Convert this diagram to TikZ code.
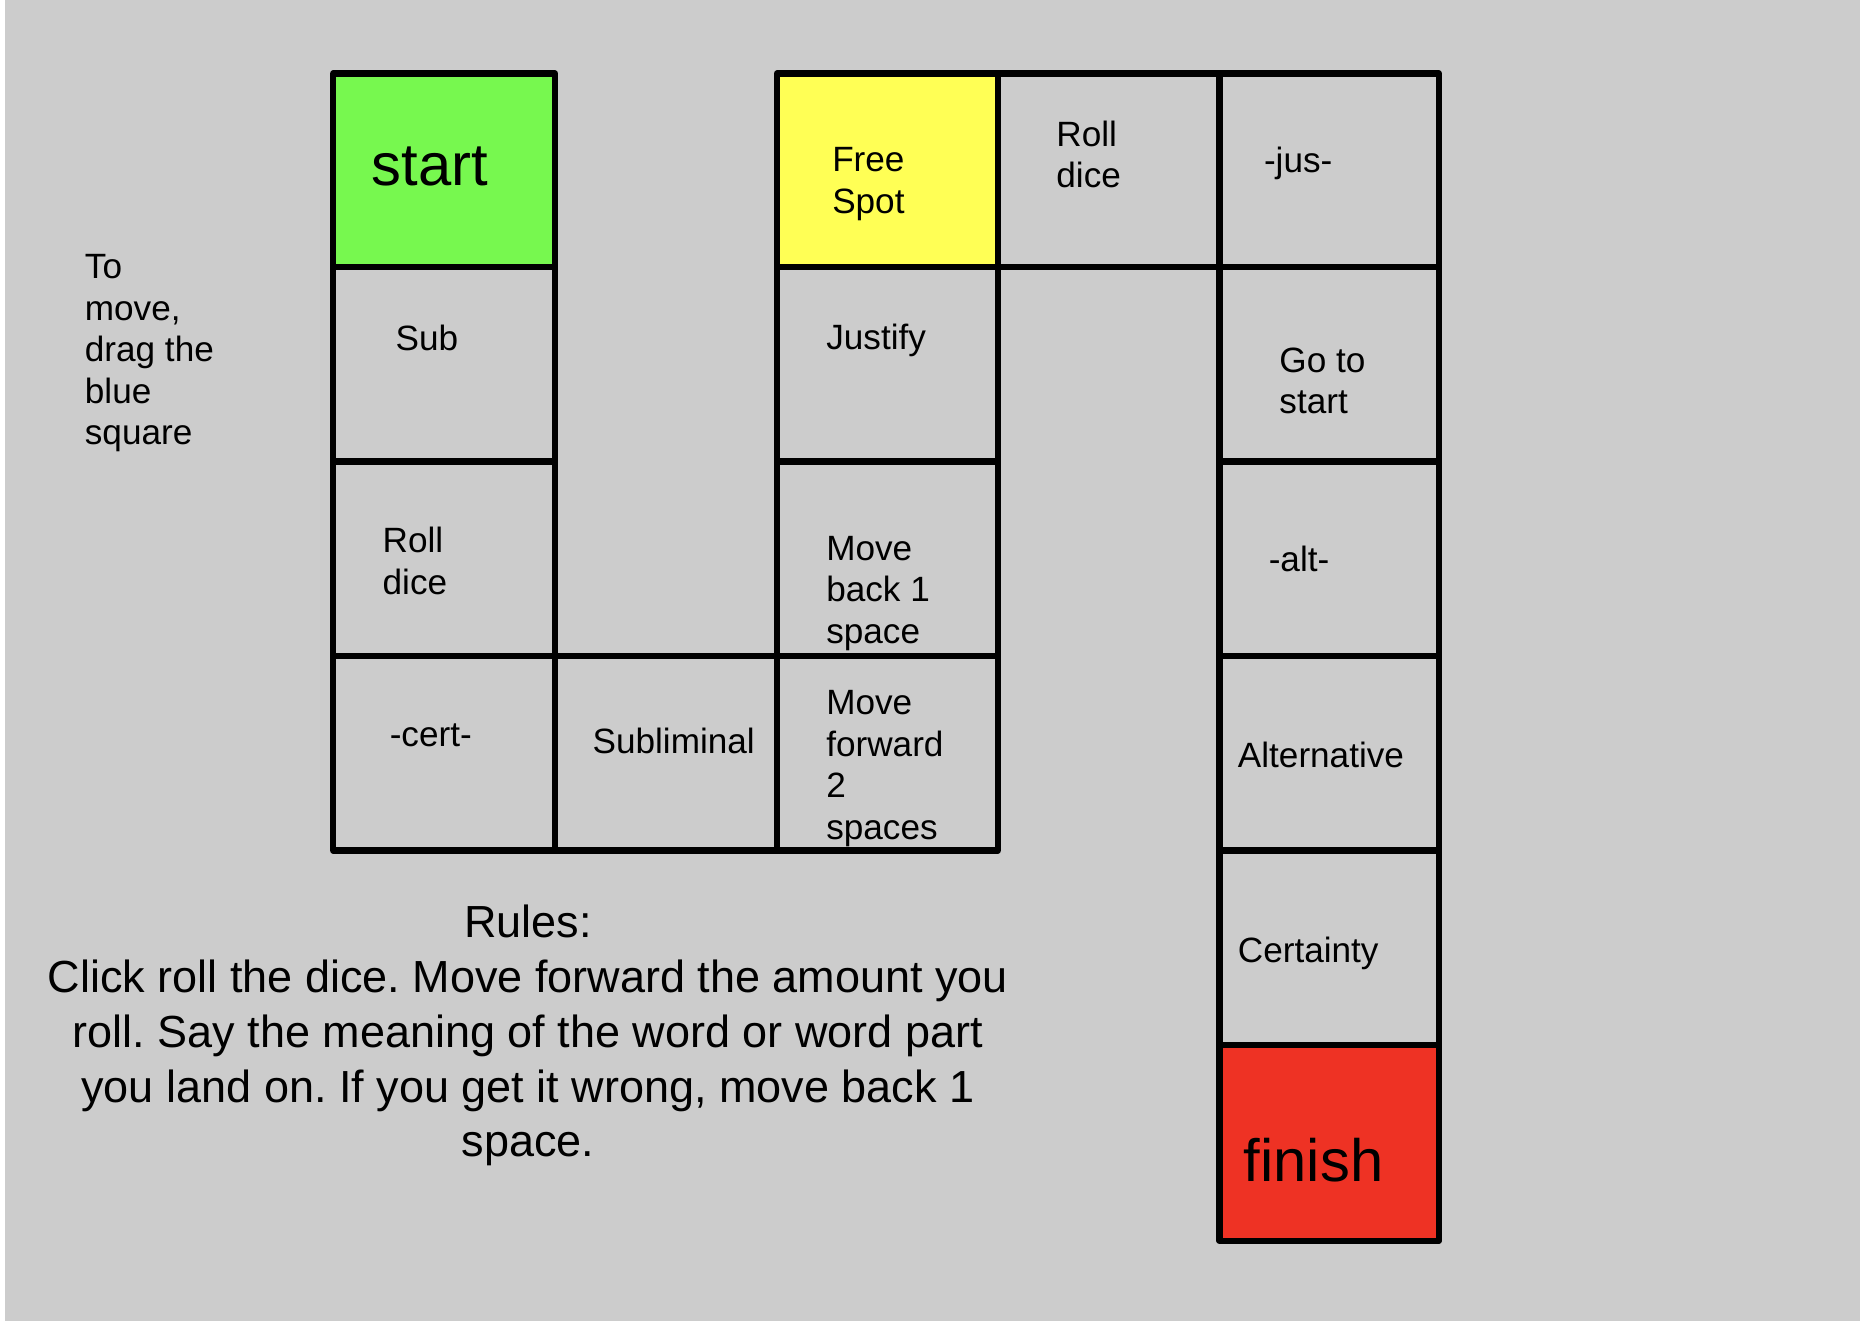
\documentclass[tikz,border=0pt]{standalone}
\usepackage{fontspec}
\setmainfont{Liberation Sans}
\usepackage{xcolor}
\usetikzlibrary{positioning}
\frenchspacing

\definecolor{boardgray}{HTML}{CCCCCC}
\definecolor{startgreen}{HTML}{77F84F}
\definecolor{spotyellow}{HTML}{FFFF55}
\definecolor{finishred}{HTML}{EE3224}

\begin{document}
\begin{tikzpicture}[x=0.11862mm, y=-0.11862mm,
        board/.style={line width=1.75pt, line join=round, line cap=round},
        cellfont/.style={anchor=west, align=left, inner sep=0pt, font=\fontsize{10}{11.8}\selectfont},
        bigfont/.style={anchor=west, inner sep=0pt, font=\fontsize{17}{20}\selectfont}]
        % page
        \useasboundingbox (0,0) rectangle (1568,1114);
        \fill[white] (0,0) rectangle (1568,1114);
        \fill[boardgray] (4,0) rectangle (1568,1114);
        % coloured squares
        \fill[startgreen] (281,62) rectangle (468,225);
        \fill[spotyellow] (655,62) rectangle (841,225);
        \fill[finishred] (1028,881) rectangle (1213,1046);
        % left column
        \draw[board] (281,62) rectangle (468,225);
        \draw[board] (281,225) rectangle (468,389);
        \draw[board] (281,389) rectangle (468,553);
        \draw[board] (281,553) rectangle (468,717);
        % bottom row and middle column
        \draw[board] (468,553) rectangle (655,717);
        \draw[board] (655,553) rectangle (841,717);
        \draw[board] (655,389) rectangle (841,553);
        \draw[board] (655,225) rectangle (841,389);
        \draw[board] (655,62) rectangle (841,225);
        % top row
        \draw[board] (841,62) rectangle (1028,225);
        % right column
        \draw[board] (1028,62) rectangle (1213,225);
        \draw[board] (1028,225) rectangle (1213,389);
        \draw[board] (1028,389) rectangle (1213,553);
        \draw[board] (1028,553) rectangle (1213,717);
        \draw[board] (1028,717) rectangle (1213,881);
        \draw[board] (1028,881) rectangle (1213,1046);
        % labels
        \node[bigfont] (start) at (313,140) {start};
        \node[cellfont] (sub) at (333,285) {Sub};
        \node[cellfont] (rollA) at (322,473) {Roll\\dice};
        \node[cellfont] (cert) at (328,620) {-cert-};
        \node[cellfont] (subliminal) at (499,625) {Subliminal};
        \node[cellfont] (forward) at (696,648) {Move\\forward\\2\\spaces};
        \node[cellfont] (back) at (696,500) {Move\\back 1\\space};
        \node[cellfont] (justify) at (696,287) {Justify};
        \node[cellfont] (free) at (701,155) {Free\\Spot};
        \node[cellfont] (rollB) at (890,130) {Roll\\dice};
        \node[cellfont] (jus) at (1065,138) {-jus-};
        \node[cellfont] (gostart) at (1078,321) {Go to\\start};
        \node[cellfont] (alt) at (1069,471) {-alt-};
        \node[cellfont] (alternative) at (1043,636) {Alternative};
        \node[cellfont] (certainty) at (1043,804) {Certainty};
        \node[bigfont] (finish) at (1048,978) {finish};
        \node[cellfont] (howto) at (71,298) {To\\move,\\drag the\\blue\\square};
        \node[align=center, inner sep=0pt, font=\fontsize{12.8}{15.6}\selectfont] (rules) at (445,873)
            {Rules:\\Click roll the dice. Move forward the amount you\\roll. Say the meaning of the word or word part\\you land on. If you get it wrong, move back 1\\space.};
    \end{tikzpicture}
\end{document}
